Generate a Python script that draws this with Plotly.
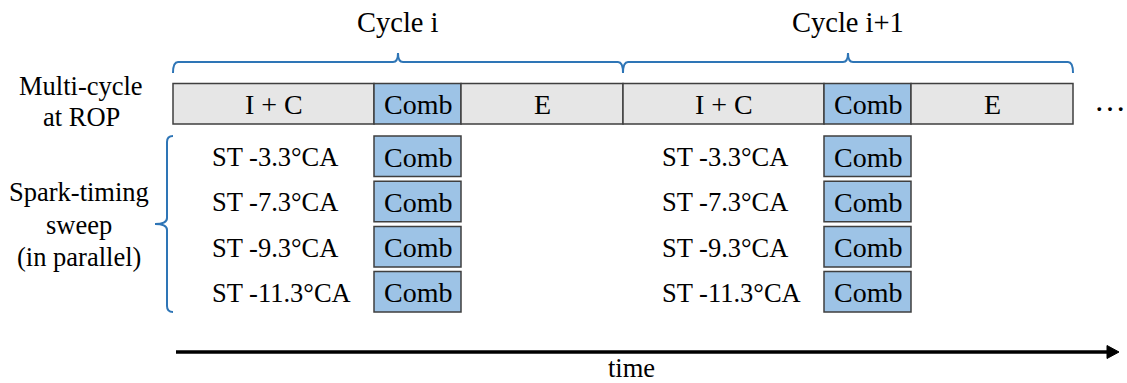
import plotly.graph_objects as go

# ---------------- data ----------------
cycle_labels = ["Cycle i", "Cycle i+1"]
phase_labels = ["I + C", "Comb", "E"]
phase_lengths = [201, 87, 162]          # relative duration of each phase within one cycle
comb_phase = "Comb"
spark_timings = ["-3.3", "-7.3", "-9.3", "-11.3"]   # spark timing, deg CA
row_label_top = ["Multi-cycle", "at ROP"]
row_label_sweep = ["Spark-timing", "sweep", "(in parallel)"]
time_label = "time"

# ---------------- layout constants ----------------
W, H = 1127, 383
T0 = 173                      # start of cycle i on the time axis
CYCLE = sum(phase_lengths)
BAR_Y0, BAR_Y1 = 83.5, 124
ROW_TOP0, ROW_PITCH, ROW_H = 136, 45.2, 40.5
GRAY = "#e6e6e6"
BLUE = "#9dc3e6"
EDGE = "#3f3f3f"
BRACE = "#2e75b6"
FAMILY = "Liberation Serif"
FSIZE = 26.5
BIG = 28

fig = go.Figure()
shapes = []
annotations = []


def text(x, y, s, xanchor="center", size=FSIZE):
    annotations.append(dict(x=x, y=y, xref="x", yref="y", text=s, showarrow=False,
                            xanchor=xanchor, yanchor="middle",
                            font=dict(family=FAMILY, size=size, color="black")))


for c, clabel in enumerate(cycle_labels):
    start = T0 + c * CYCLE
    # top multi-cycle bar
    x = start
    comb_x0 = None
    for lab, ln in zip(phase_labels, phase_lengths):
        shapes.append(dict(type="rect", xref="x", yref="y", x0=x, x1=x + ln, y0=BAR_Y0, y1=BAR_Y1,
                           fillcolor=BLUE if lab == comb_phase else GRAY,
                           line=dict(color=EDGE, width=1.5), layer="above"))
        text(x + ln / 2, (BAR_Y0 + BAR_Y1) / 2 + 1, lab, size=BIG)
        if lab == comb_phase:
            comb_x0, comb_len = x, ln
        x += ln
    # brace over the cycle
    end = start + CYCLE
    mid = start + CYCLE / 2
    yb, ye, yt = 62, 73, 53
    path = (f"M {start},{ye} Q {start},{yb} {start+5},{yb} L {mid-5},{yb} "
            f"Q {mid},{yb} {mid},{yt} Q {mid},{yb} {mid+5},{yb} L {end-5},{yb} "
            f"Q {end},{yb} {end},{ye}")
    shapes.append(dict(type="path", path=path, xref="x", yref="y",
                       line=dict(color=BRACE, width=2)))
    text(mid, 22, clabel, size=BIG + 0.5)
    # spark timing sweep rows
    for r, st in enumerate(spark_timings):
        y0 = ROW_TOP0 + r * ROW_PITCH
        y1 = y0 + ROW_H
        shapes.append(dict(type="rect", xref="x", yref="y", x0=comb_x0, x1=comb_x0 + comb_len,
                           y0=y0, y1=y1, fillcolor=BLUE, line=dict(color=EDGE, width=1.5)))
        text(comb_x0 + comb_len / 2, (y0 + y1) / 2 + 1, comb_phase, size=BIG)
        text(start + 37, (y0 + y1) / 2 + 1, f"ST {st}°CA", xanchor="left")

# ellipsis after the last cycle
text(T0 + len(cycle_labels) * CYCLE + 37, 100, "…", size=32)

# left bracket for the sweep rows
ytop = ROW_TOP0
ybot = ROW_TOP0 + (len(spark_timings) - 1) * ROW_PITCH + ROW_H
ymid = (ytop + ybot) / 2
xb = 167
path = (f"M {xb+6},{ytop} Q {xb},{ytop} {xb},{ytop+6} L {xb},{ymid-6} "
        f"Q {xb},{ymid} {xb-12},{ymid} Q {xb},{ymid} {xb},{ymid+6} L {xb},{ybot-6} "
        f"Q {xb},{ybot} {xb+6},{ybot}")
shapes.append(dict(type="path", path=path, xref="x", yref="y", line=dict(color=BRACE, width=2)))

# row labels
for i, s in enumerate(row_label_top):
    text(81, 86 + i * 31, s)
for i, s in enumerate(row_label_sweep):
    text(78.5, 192 + i * 32.5, s)

# time arrow
shapes.append(dict(type="line", xref="x", yref="y", x0=176, x1=1109, y0=352, y1=352,
                   line=dict(color="black", width=3.5)))
shapes.append(dict(type="path", xref="x", yref="y", path="M 1107,345.5 L 1119,352 L 1107,358.5 Z",
                   fillcolor="black", line=dict(color="black", width=1)))
text(631, 368, time_label)

fig.update_layout(
    width=W, height=H, margin=dict(l=0, r=0, t=0, b=0),
    paper_bgcolor="white", plot_bgcolor="white",
    font=dict(family=FAMILY),
    xaxis=dict(range=[0, W], visible=False, fixedrange=True),
    yaxis=dict(range=[H, 0], visible=False, fixedrange=True),
    shapes=shapes, annotations=annotations, showlegend=False,
)
fig.write_html("out.html", config={"displayModeBar": False},
               post_script="document.body.style.margin='0';document.body.style.overflow='hidden';")
